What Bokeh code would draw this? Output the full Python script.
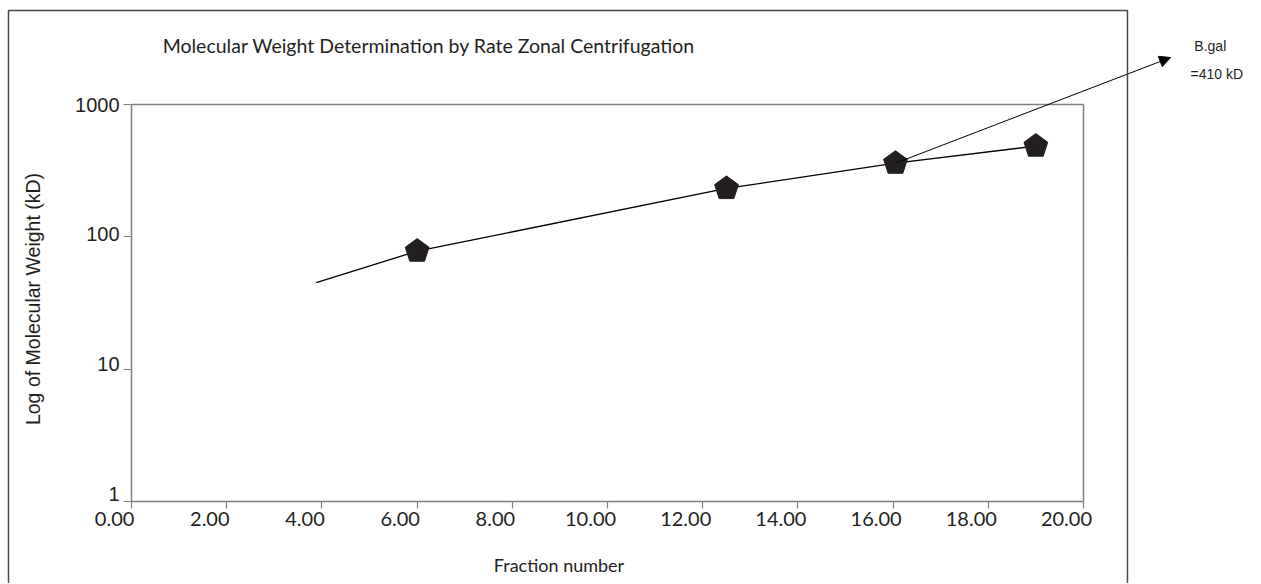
import math
from bokeh.plotting import figure
from bokeh.models import (Range1d, FixedTicker, Label, Arrow, NormalHead, BoxAnnotation,
                          LinearAxis, LogAxis, LogScale, CustomLabelingPolicy)
from bokeh.embed import file_html
from bokeh.resources import INLINE

# ---- data ----
fractions = [6.0, 12.5, 16.05, 19.0]
mol_weight = [78, 232, 360, 485]
fit_x = [3.88, 6.0, 12.5, 16.05, 19.0]
fit_y = [45, 78, 232, 360, 485]
x_ticks = [0, 2, 4, 6, 8, 10, 12, 14, 16, 18, 20]
x_tick_labels = ["0.00", "2.00", "4.00", "6.00", "8.00", "10.00", "12.00", "14.00", "16.00", "18.00", "20.00"]
y_ticks = [1, 10, 100, 1000]
y_tick_labels = ["1", "10", "100", "1000"]
title_text = "Molecular Weight Determination by Rate Zonal Centrifugation"
x_title = "Fraction number"
y_title = "Log of Molecular Weight (kD)"
note_lines = ["B.gal", "=410 kD"]

INK = "#231f20"
GREY = "#7f7f7f"
X0, X1 = -2.755, 23.72        # data window (extends past the axes)
Y0, Y1 = 0.24, 6109
LABEL_SHIFT = 0.357           # x tick labels sit a little left of their ticks
YLAB0, YLAB1 = 0.2026, 6340   # y tick labels are set slightly tighter than the ticks

NO_LABELS = CustomLabelingPolicy(code="return []")

p = figure(frame_width=1260, frame_height=583,
           x_range=Range1d(X0, X1), y_range=Range1d(Y0, Y1), y_axis_type="log",
           output_backend="svg", toolbar_location=None,
           min_border_left=0, min_border_top=0, min_border_right=0, min_border_bottom=0)
p.title.visible = False
p.background_fill_color = "white"
p.border_fill_color = "white"
p.outline_line_color = None
p.grid.visible = False
p.extra_x_ranges = {"labels": Range1d(X0 + LABEL_SHIFT, X1 + LABEL_SHIFT)}
p.extra_y_ranges = {"ylabels": Range1d(YLAB0, YLAB1)}
p.extra_y_scales = {"ylabels": LogScale()}

# main axes: lines and ticks only
xa = p.xaxis[0]
ya = p.yaxis[0]
xa.fixed_location = y_ticks[0]
xa.bounds = (x_ticks[0], x_ticks[-1])
ya.fixed_location = x_ticks[0]
ya.bounds = (y_ticks[0], y_ticks[-1])
xa.ticker = FixedTicker(ticks=x_ticks)
ya.ticker = FixedTicker(ticks=y_ticks)
for ax in (xa, ya):
    ax.major_label_policy = NO_LABELS
    ax.axis_line_color = GREY
    ax.axis_line_width = 1.5
    ax.major_tick_line_color = GREY
    ax.major_tick_line_width = 1.2
    ax.major_tick_in = 0
    ax.minor_tick_line_color = None
xa.major_tick_out = 7
ya.major_tick_out = 8

# tick-label axes
xlab = LinearAxis(x_range_name="labels", fixed_location=y_ticks[0],
                  bounds=(x_ticks[0], x_ticks[-1]), ticker=FixedTicker(ticks=x_ticks),
                  major_label_overrides={t: l for t, l in zip(x_ticks, x_tick_labels)},
                  axis_line_color=None, major_tick_line_color=None, minor_tick_line_color=None,
                  major_tick_out=7, major_tick_in=0, major_label_standoff=4,
                  major_label_text_font="Lato", major_label_text_font_size="20px",
                  major_label_text_color=INK)
p.add_layout(xlab, "below")
ylab = LogAxis(y_range_name="ylabels", fixed_location=x_ticks[0],
               bounds=(y_ticks[0], y_ticks[-1]), ticker=FixedTicker(ticks=y_ticks),
               major_label_overrides={t: l for t, l in zip(y_ticks, y_tick_labels)},
               axis_line_color=None, major_tick_line_color=None, minor_tick_line_color=None,
               major_tick_out=8, major_tick_in=0, major_label_standoff=4,
               major_label_text_font="Liberation Sans", major_label_text_font_size="20px",
               major_label_text_color=INK,
               axis_label=y_title, axis_label_text_font="Liberation Sans",
               axis_label_text_font_size="19.5px", axis_label_text_font_style="normal",
               axis_label_text_color=INK, axis_label_standoff=28)
p.add_layout(ylab, "left")

# top and right edges of the plotting box
top_edge = LinearAxis(fixed_location=y_ticks[-1], bounds=(x_ticks[0], x_ticks[-1]),
                      ticker=FixedTicker(ticks=[]), major_label_policy=NO_LABELS,
                      major_tick_line_color=None, minor_tick_line_color=None,
                      axis_line_color=GREY, axis_line_width=1.5)
right_edge = LogAxis(fixed_location=x_ticks[-1], bounds=(y_ticks[0], y_ticks[-1]),
                     ticker=FixedTicker(ticks=[]), major_label_policy=NO_LABELS,
                     major_tick_line_color=None, minor_tick_line_color=None,
                     axis_line_color=GREY, axis_line_width=1.5)
p.add_layout(top_edge, "above")
p.add_layout(right_edge, "right")

# fit line and points
p.line(fit_x, fit_y, line_color="black", line_width=1.3)
p.ngon(x=fractions, y=mol_weight, radius=12.5, radius_units="screen", n=5,
       angle=0, fill_color=INK, line_color=INK)

# annotation arrow from the third point
p.add_layout(Arrow(end=NormalHead(size=11, fill_color="black", line_color="black"),
                   x_start=fractions[2], y_start=mol_weight[2], x_end=21.83, y_end=2265,
                   line_color="black", line_width=1))
p.add_layout(Label(x=22.33, y=2744, text=note_lines[0], text_font="Liberation Sans",
                   text_font_size="14px", text_color=INK, text_baseline="middle"))
p.add_layout(Label(x=22.25, y=1715, text=note_lines[1], text_font="Liberation Sans",
                   text_font_size="14px", text_color=INK, text_baseline="middle"))

# title and x title
p.add_layout(Label(x=0.652, y=2792, text=title_text, text_font="Lato",
                   text_font_size="19.5px", text_color=INK, text_baseline="middle"))
p.add_layout(Label(x=8.98, y=0.334, text=x_title, text_font="Lato",
                   text_font_size="18px", text_color=INK, text_baseline="middle",
                   text_align="center"))

# outer frame box
p.add_layout(BoxAnnotation(left=-2.587, right=20.925, top=5130, bottom=0.1,
                           fill_color=None, fill_alpha=0, line_color="#4a4a4a",
                           line_alpha=1.0, line_width=1.5))

open("out.html", "w").write(file_html(p, INLINE))
